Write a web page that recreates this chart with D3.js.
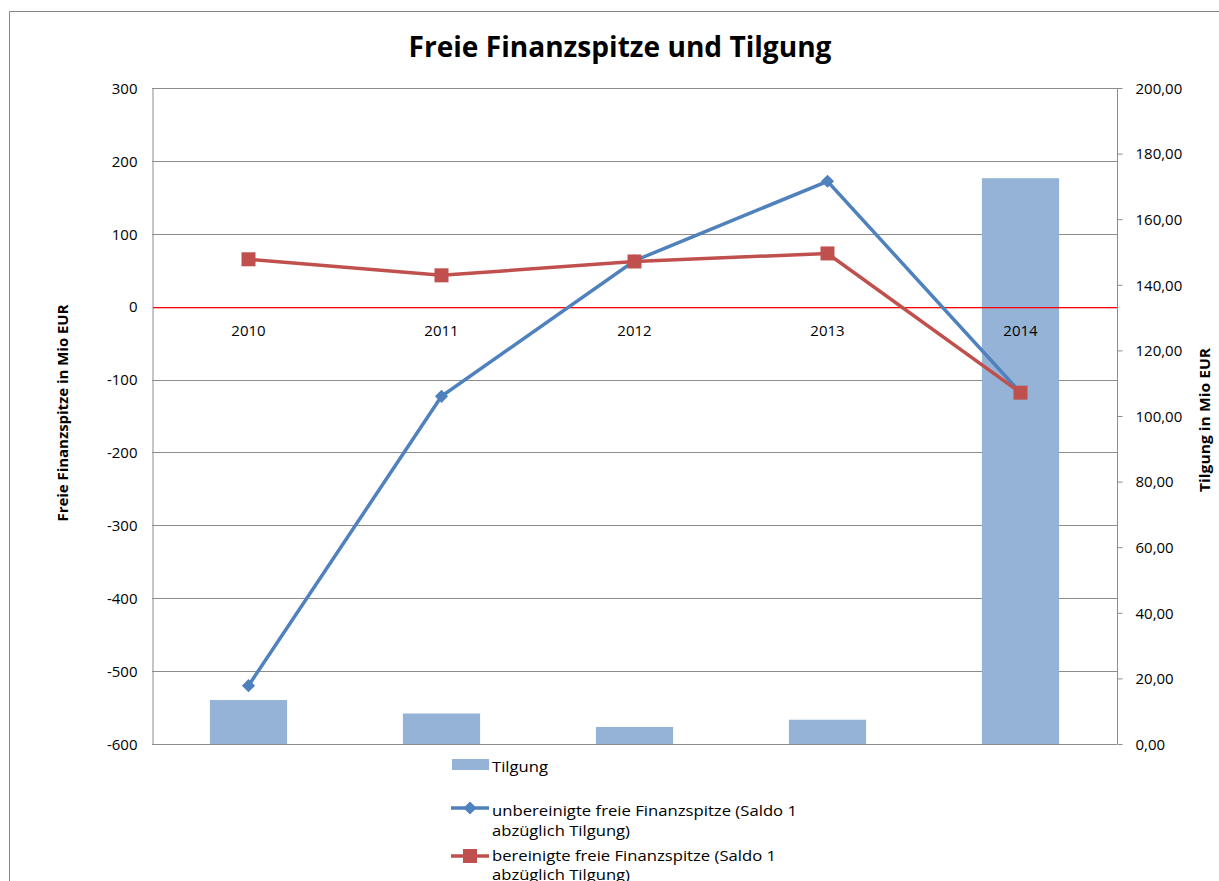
<!DOCTYPE html>
<html>
<head>
<meta charset="utf-8">
<script src="https://cdn.jsdelivr.net/npm/d3@7"></script>
<style>
  body { margin: 0; background: #fff; }
  svg text { font-family: "Open Sans", "Noto Sans", sans-serif; fill: #000; }
</style>
</head>
<body>
<script>
var years = ["2010", "2011", "2012", "2013", "2014"];
var tilgung = [13.4, 9.3, 5.2, 7.4, 172.5];
var unbereinigt = [-520, -123, 63, 172, -118];
var bereinigt = [65, 43, 62, 73, -118];
var leftTicks = [300, 200, 100, 0, -100, -200, -300, -400, -500, -600];
var rightTicks = [0, 20, 40, 60, 80, 100, 120, 140, 160, 180, 200];

var width = 1219, height = 881;
var plot = {left: 152, right: 1117, top: 88, bottom: 744};

var svg = d3.select("body").append("svg")
    .attr("width", width)
    .attr("height", height);

//chart frame
svg.append("path")
    .attr("d", "M9.5," + height + "V11.5H" + width)
    .attr("fill", "none")
    .attr("stroke", "#868686")
    .attr("stroke-width", 1);

//title
svg.append("text")
    .attr("x", 620)
    .attr("y", 57)
    .attr("text-anchor", "middle")
    .attr("textLength", 423)
    .attr("lengthAdjust", "spacingAndGlyphs")
    .style("font-size", "28px")
    .style("font-weight", "bold")
    .text("Freie Finanzspitze und Tilgung");

var x = d3.scaleBand()
    .domain(years)
    .range([plot.left, plot.right])
    .paddingInner(0.6)
    .paddingOuter(0.3);

var xc = function(d){ return x(d) + x.bandwidth() / 2; };

var yL = d3.scaleLinear().domain([-600, 300]).range([plot.bottom, plot.top]);
var yR = d3.scaleLinear().domain([0, 200]).range([plot.bottom, plot.top]);

//gridlines (zero is drawn red later)
svg.append("g").selectAll("line")
    .data(leftTicks.filter(function(d){ return d !== 0; }))
    .enter().append("line")
    .attr("x1", plot.left).attr("x2", plot.right)
    .attr("y1", function(d){ return Math.round(yL(d)) + 0.5; })
    .attr("y2", function(d){ return Math.round(yL(d)) + 0.5; })
    .attr("stroke", "#8c8c8c")
    .attr("stroke-width", 1);

//bars (right axis)
svg.append("g").selectAll("rect")
    .data(tilgung)
    .enter().append("rect")
    .attr("x", function(d, i){ return x(years[i]); })
    .attr("width", x.bandwidth())
    .attr("y", function(d){ return yR(d); })
    .attr("height", function(d){ return yR(0) - yR(d); })
    .attr("fill", "#95b3d7");

//left axis
var leftAxis = d3.axisLeft(yL).tickValues(leftTicks).tickSize(0).tickPadding(15)
    .tickFormat(function(d){ return String(d); });
var gl = svg.append("g")
    .attr("transform", "translate(" + (plot.left + 0.5) + ",0)")
    .call(leftAxis);
gl.select(".domain").attr("stroke", "#8c8c8c");
gl.selectAll(".tick line").remove();
gl.selectAll("text").style("font-size", "15px").attr("dy", "0.35em");

//right axis
var rightAxis = d3.axisRight(yR).tickValues(rightTicks).tickSize(5).tickPadding(13)
    .tickFormat(function(d){ return d3.format(".2f")(d).replace(".", ","); });
var gr = svg.append("g")
    .attr("transform", "translate(" + (plot.right + 0.5) + ",0)")
    .call(rightAxis);
gr.select(".domain").attr("stroke", "#8c8c8c").attr("d", "M0," + plot.top + "V" + plot.bottom);
gr.selectAll(".tick line").attr("stroke", "#8c8c8c");
gr.selectAll("text").style("font-size", "15px").attr("dy", "0.35em");

//zero line
svg.append("rect")
    .attr("x", plot.left + 1).attr("width", plot.right - plot.left - 1)
    .attr("y", Math.round(yL(0))).attr("height", 1.3)
    .attr("fill", "#ff0000");

//category labels
svg.append("g").selectAll("text")
    .data(years)
    .enter().append("text")
    .attr("x", xc)
    .attr("y", yL(0) + 29)
    .attr("text-anchor", "middle")
    .style("font-size", "15px")
    .text(function(d){ return d; });

//lines
var line = d3.line()
    .x(function(d, i){ return xc(years[i]); })
    .y(function(d){ return yL(d); });

svg.append("path")
    .datum(unbereinigt)
    .attr("d", line)
    .attr("fill", "none")
    .attr("stroke", "#4f81bd")
    .attr("stroke-width", 3.5);

svg.append("g").selectAll("path")
    .data(unbereinigt)
    .enter().append("path")
    .attr("d", d3.symbol().type(d3.symbolDiamond2).size(110))
    .attr("transform", function(d, i){ return "translate(" + xc(years[i]) + "," + yL(d) + ")"; })
    .attr("fill", "#4f81bd");

svg.append("path")
    .datum(bereinigt)
    .attr("d", line)
    .attr("fill", "none")
    .attr("stroke", "#c0504d")
    .attr("stroke-width", 3.5);

svg.append("g").selectAll("rect")
    .data(bereinigt)
    .enter().append("rect")
    .attr("x", function(d, i){ return xc(years[i]) - 7; })
    .attr("y", function(d){ return yL(d) - 7; })
    .attr("width", 14).attr("height", 14)
    .attr("fill", "#c0504d");

//axis titles
svg.append("text")
    .attr("transform", "translate(68,413) rotate(-90)")
    .attr("text-anchor", "middle")
    .attr("textLength", 217)
    .attr("lengthAdjust", "spacingAndGlyphs")
    .style("font-size", "14px")
    .style("font-weight", "bold")
    .text("Freie Finanzspitze in Mio EUR");

svg.append("text")
    .attr("transform", "translate(1210,420) rotate(-90)")
    .attr("text-anchor", "middle")
    .attr("textLength", 144)
    .attr("lengthAdjust", "spacingAndGlyphs")
    .style("font-size", "14px")
    .style("font-weight", "bold")
    .text("Tilgung in Mio EUR");

//legend
var legend = svg.append("g");
function legendText(y, s, len){
    legend.append("text").attr("x", 492).attr("y", y)
        .attr("textLength", len)
        .attr("lengthAdjust", "spacingAndGlyphs")
        .style("font-size", "15px").text(s);
}
legend.append("rect")
    .attr("x", 452).attr("y", 759).attr("width", 37).attr("height", 11)
    .attr("fill", "#95b3d7");
legendText(772, "Tilgung", 56);

legend.append("line")
    .attr("x1", 451).attr("x2", 489).attr("y1", 808).attr("y2", 808)
    .attr("stroke", "#4f81bd").attr("stroke-width", 3.5);
legend.append("path")
    .attr("d", d3.symbol().type(d3.symbolDiamond2).size(110))
    .attr("transform", "translate(470,808)")
    .attr("fill", "#4f81bd");
legendText(816, "unbereinigte freie Finanzspitze (Saldo 1", 305);
legendText(836, "abzüglich Tilgung)", 138);

legend.append("line")
    .attr("x1", 451).attr("x2", 489).attr("y1", 856).attr("y2", 856)
    .attr("stroke", "#c0504d").attr("stroke-width", 3.5);
legend.append("rect")
    .attr("x", 463).attr("y", 849).attr("width", 14).attr("height", 14)
    .attr("fill", "#c0504d");
legendText(861, "bereinigte freie Finanzspitze (Saldo 1", 284);
legendText(880, "abzüglich Tilgung)", 138);
</script>
</body>
</html>
